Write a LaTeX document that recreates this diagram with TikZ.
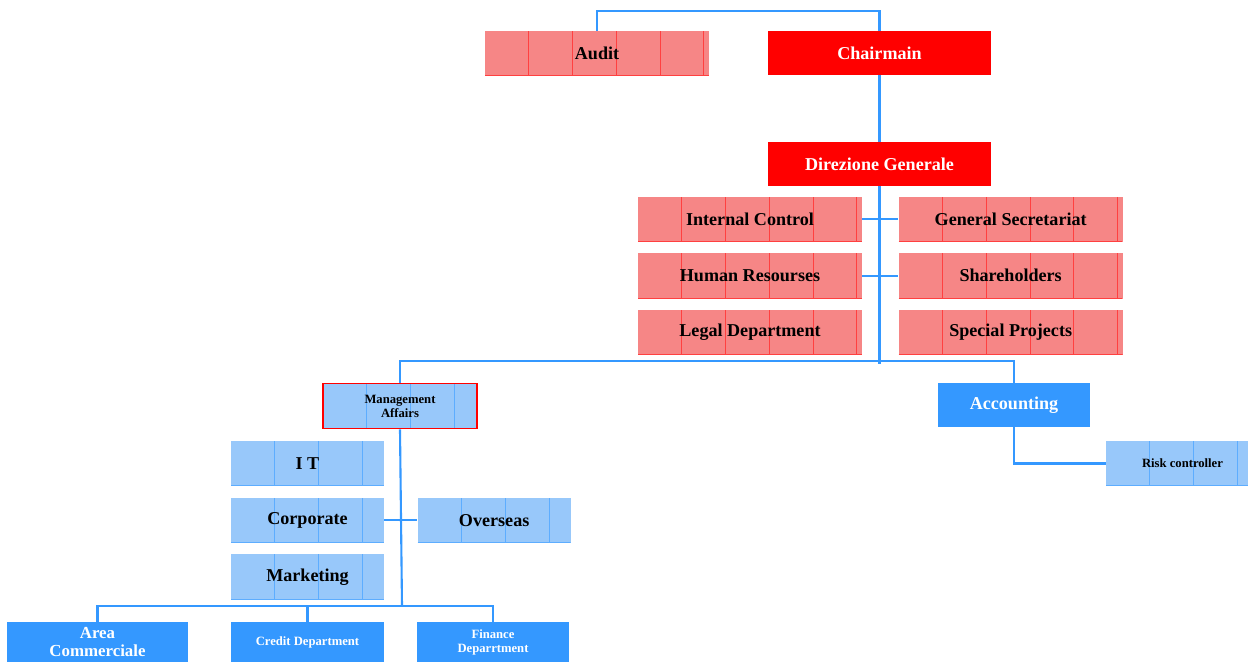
\documentclass[tikz,border=0pt]{standalone}
\usepackage{xcolor}
\usepackage{fontspec}
\setmainfont{Liberation Serif}
\usepackage{tikz}
\usetikzlibrary{positioning}

\definecolor{chartred}{RGB}{255,0,0}
\definecolor{palered}{RGB}{246,134,134}
\definecolor{chartblue}{RGB}{52,152,255}
\definecolor{paleblue}{RGB}{152,200,250}

\tikzset{
	link/.style={draw=chartblue, line width=1.2pt},
	bigtext/.style={font=\bfseries\fontsize{10.3}{12}\selectfont},
	smalltext/.style={font=\bfseries\fontsize{7.2}{8}\selectfont, align=center},
	ruled/.style={path picture={
		\foreach \k in {1,...,6}
			\draw[#1, line width=0.4pt] ([xshift=\k*0.875cm]path picture bounding box.south west) -- ([xshift=\k*0.875cm]path picture bounding box.north west);
		\draw[#1, line width=0.6pt] (path picture bounding box.south west) -- (path picture bounding box.south east);}},
	redbox/.style={fill=chartred, text=white, inner sep=0pt, minimum width=4.46cm, minimum height=0.88cm, bigtext},
	pinkbox/.style={fill=palered, ruled=red!75, inner sep=0pt, minimum width=4.48cm, minimum height=0.9cm, bigtext},
	bluebox/.style={fill=chartblue, text=white, inner sep=0pt, minimum width=3.06cm, minimum height=0.88cm},
	skybox/.style={fill=paleblue, ruled=chartblue!80, inner sep=0pt, minimum width=3.06cm, minimum height=0.9cm}
}

\begin{document}
\begin{tikzpicture}[x=0.02cm, y=-0.02cm]
	\useasboundingbox (0,0) rectangle (1248,662);
	\clip (0,0) rectangle (1248,662);

	% board
	\node[pinkbox] (audit) at (597,53.5) {Audit};
	\node[redbox] (chair) at (879.5,53) {Chairmain};
	\node[redbox] (dir) at (879.5,164) {Direzione Generale};

	% staff
	\node[pinkbox] (ic) at (750,219) {Internal Control};
	\node[pinkbox] (hr) [below = 0.22cm of ic] {Human Resourses};
	\node[pinkbox] (ld) [below = 0.22cm of hr] {Legal Department};
	\node[pinkbox] (gs) [right = 0.72cm of ic] {General Secretariat};
	\node[pinkbox] (sh) [right = 0.72cm of hr] {Shareholders};
	\node[pinkbox] (sp) [right = 0.72cm of ld] {Special Projects};

	% divisions
	\node[skybox, draw=chartred, line width=1pt, minimum width=3.08cm, smalltext] (manage) at (400,406) {Management\\Affairs};
	\node[bluebox, minimum width=3.04cm, bigtext] (acct) at (1014,405) {Accounting};
	\node[skybox, smalltext] (risk) at (1182.5,463.5) {Risk controller};

	\node[skybox, bigtext] (it) at (307.5,463.5) {I T};
	\node[skybox, bigtext] (corp) [below = 0.22cm of it] {Corporate};
	\node[skybox, bigtext] (mkt) [below = 0.22cm of corp] {Marketing};
	\node[skybox, bigtext] (over) [right = 0.66cm of corp] {Overseas};

	% bottom row runs off the page, the text is kept inside it
	\node[bluebox, minimum width=3.62cm, minimum height=0.8cm, align=center, font=\bfseries\fontsize{9.6}{10.2}\selectfont] (area) at (97.5,642) {Area\\Commerciale};
	\node[bluebox, minimum height=0.8cm, smalltext] (credit) at (307.5,642) {Credit Department};
	\node[bluebox, minimum height=0.8cm, smalltext] (fin) at (493,642) {Finance\\Deparrtment};

	\coordinate (bar) at (879.5,361);
	\coordinate (bar2) at (402,606);

	\draw[link] (audit.north) -- ++(0,-20) -| (chair.north);
	\draw[link] (chair.south) -- (dir.north);
	\draw[link] (dir.south) -- ++(0,178);
	\draw[link] (ic.east) -- (gs.west);
	\draw[link] (hr.east) -- (sh.west);
	\draw[link] (manage.north) |- (bar) -| (acct.north);
	\draw[link] (acct.south) |- (risk.west);
	\draw[link] (manage.south) -- (bar2);
	\draw[link] (corp.east) -- (over.west);
	\draw[link] (area.north) |- (bar2) -| (fin.north);
	\draw[link] (credit.north) -- (credit.north |- bar2);
\end{tikzpicture}
\end{document}
